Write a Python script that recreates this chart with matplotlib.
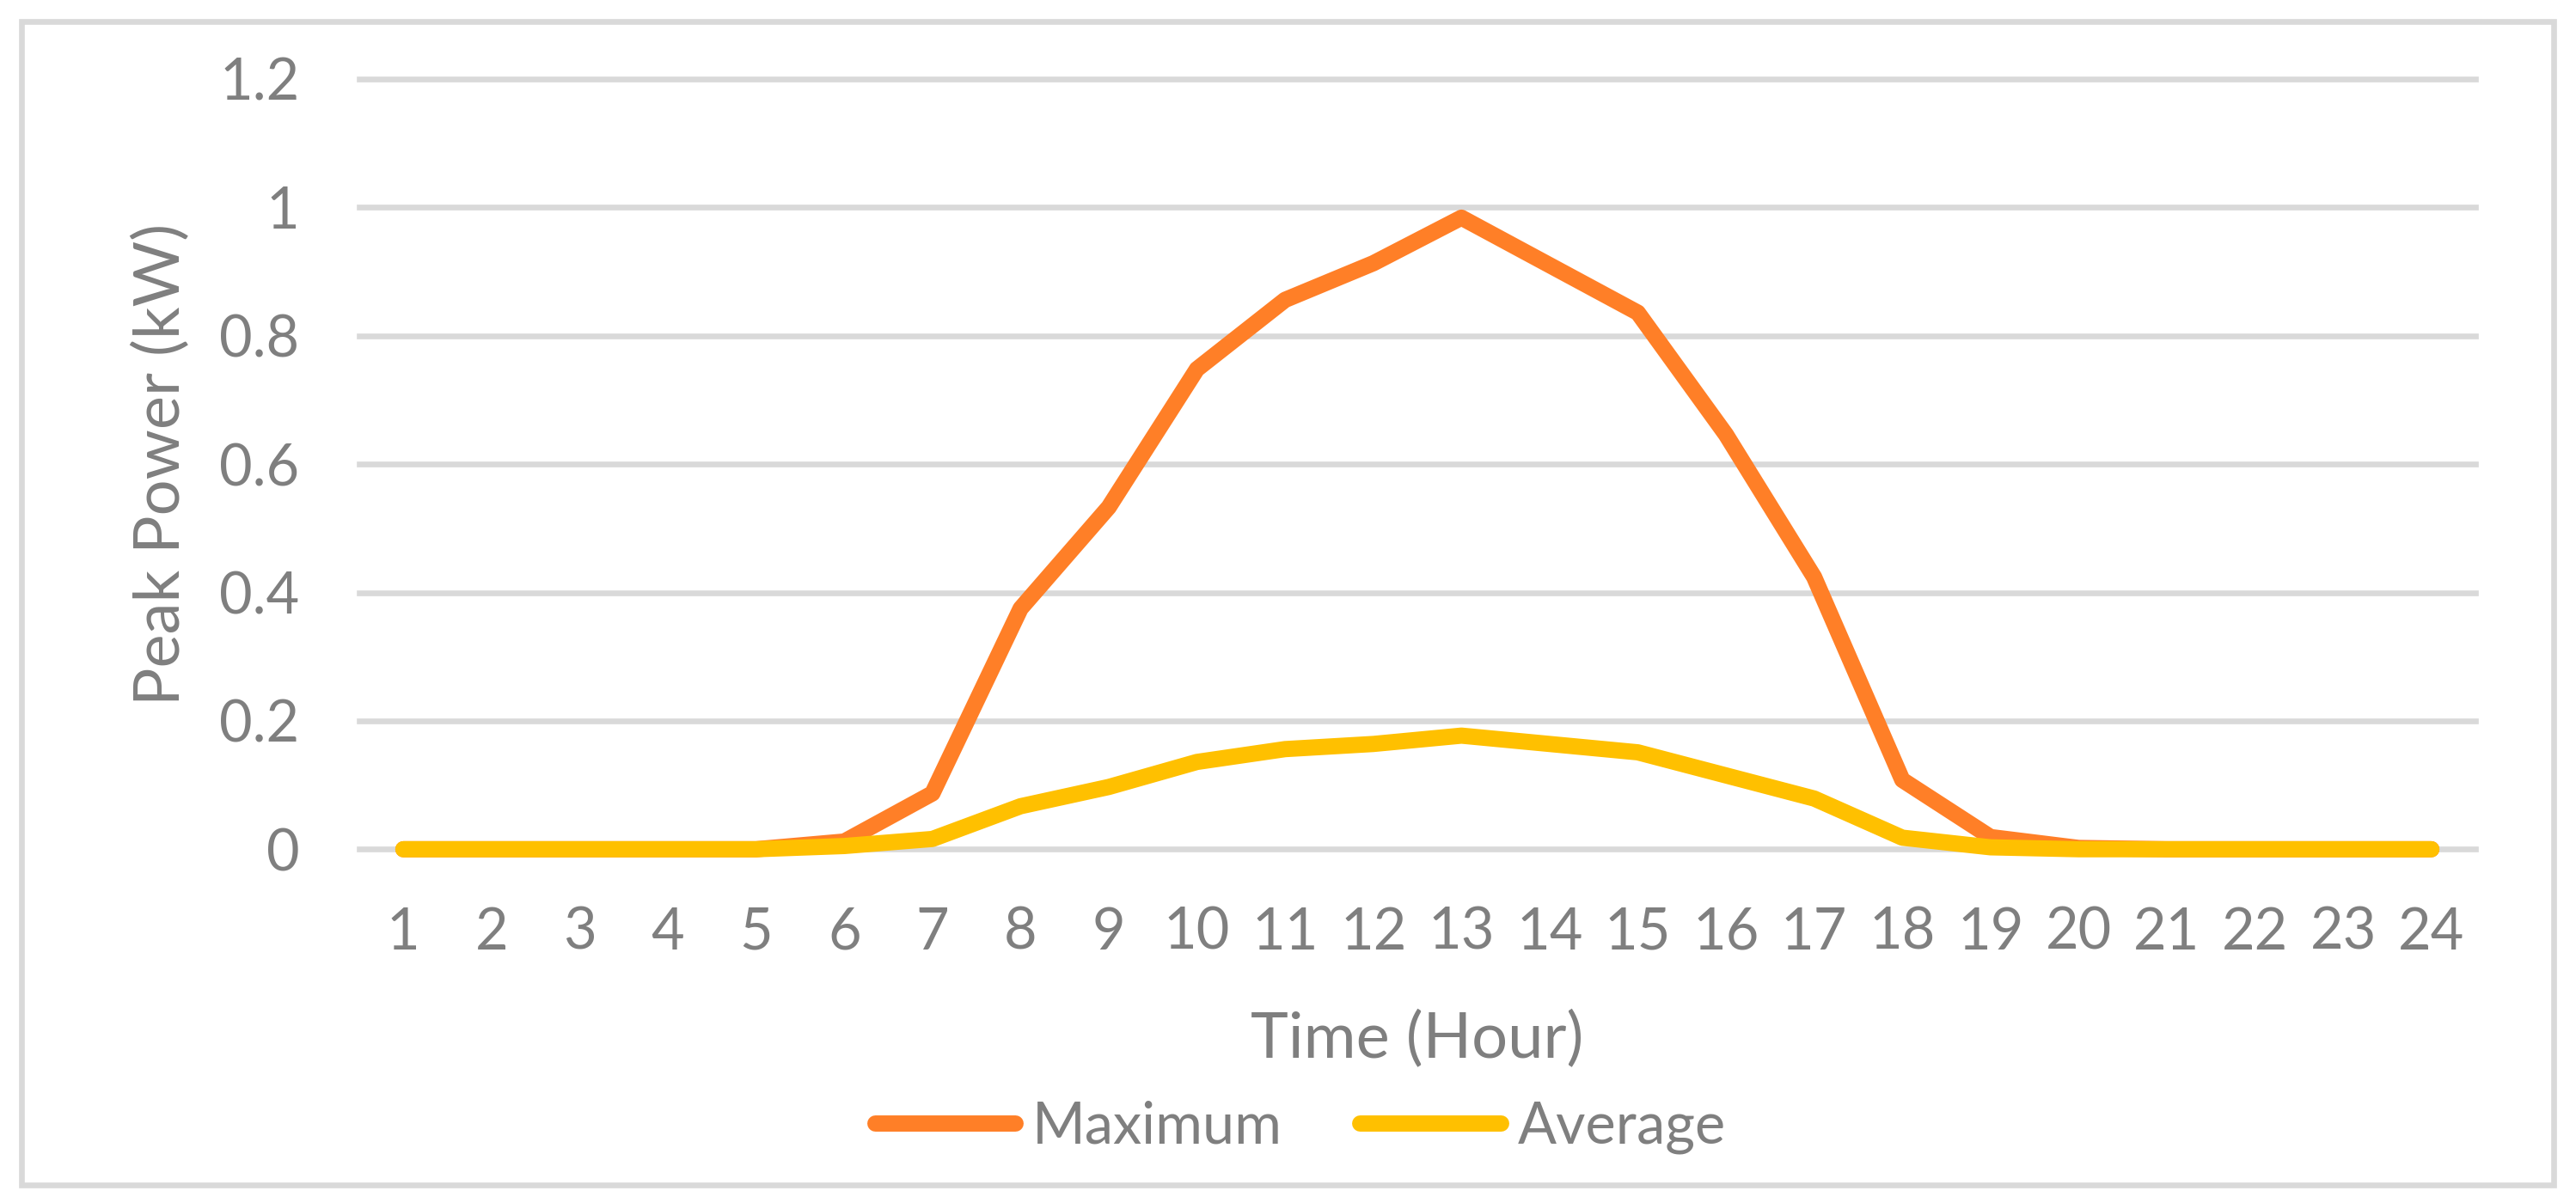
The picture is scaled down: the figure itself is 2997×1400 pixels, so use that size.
import matplotlib
matplotlib.use("Agg")
import matplotlib.pyplot as plt
from matplotlib.patches import Rectangle

# ---- data ----
hours = [str(h) for h in range(1, 25)]
maximum = [0, 0, 0, 0, 0, 0.012, 0.087, 0.375, 0.533, 0.748, 0.856, 0.913,
           0.984, 0.910, 0.836, 0.646, 0.424, 0.108, 0.019, 0.002, 0, 0, 0, 0]
average = [0, 0, 0, 0, 0, 0.005, 0.016, 0.067, 0.097, 0.136, 0.156, 0.164,
           0.177, 0.164, 0.151, 0.115, 0.079, 0.018, 0.003, 0, 0, 0, 0, 0]
y_ticks = [0, 0.2, 0.4, 0.6, 0.8, 1, 1.2]
y_tick_labels = ["0", "0.2", "0.4", "0.6", "0.8", "1", "1.2"]
series_names = ["Maximum", "Average"]

# ---- style ----
plt.rcParams['font.family'] = ['Lato', 'DejaVu Sans']
TXT = '#7F7F7F'
GRID = '#D9D9D9'
ORANGE = '#FF7F27'
YELLOW = '#FFC000'

W, H = 2997, 1400
fig = plt.figure(figsize=(W / 200, H / 200), dpi=200)

# outer border
border = Rectangle((24.5 / W, 21 / H), (2971 - 24.5) / W, (1379 - 24.5) / H,
                   transform=fig.transFigure, fill=False, edgecolor=GRID,
                   linewidth=2.4, zorder=0)
fig.patches.append(border)

ax = fig.add_axes([418 / W, 1 - 988.3 / H, (2880 - 418) / W, (988.3 - 92) / H])
x = list(range(1, 25))
lw = 6.8
ax.plot(x, maximum, color=ORANGE, lw=lw, solid_capstyle='round',
        solid_joinstyle='round', clip_on=False, label=series_names[0], zorder=3)
ax.plot(x, average, color=YELLOW, lw=lw, solid_capstyle='round',
        solid_joinstyle='round', clip_on=False, label=series_names[1], zorder=4)

ax.set_xlim(0.5, 24.5)
ax.set_ylim(0, 1.2)
ax.set_xticks(x)
ax.set_xticklabels(hours)
ax.set_yticks(y_ticks)
ax.set_yticklabels(y_tick_labels)
ax.tick_params(axis='both', length=0, labelsize=24, colors=TXT)
ax.tick_params(axis='x', pad=24)
ax.tick_params(axis='y', pad=25)
ax.grid(axis='y', color=GRID, lw=2.4)
ax.grid(axis='x', visible=False)
ax.set_axisbelow(True)
for gl in ax.get_ygridlines():
    gl.set_clip_on(False)
for s in ax.spines.values():
    s.set_visible(False)

fig.text(188 / W, 1 - 540 / H, "Peak Power (kW)", rotation=90, ha='center',
         va='center', fontsize=26.7, color=TXT)
fig.text(1649 / W, 1 - 1210 / H, "Time (Hour)", ha='center', va='center',
         fontsize=26.7, color=TXT)

leg = fig.legend(loc='center', bbox_to_anchor=(1513 / W, 1 - 1312 / H),
                 ncol=2, frameon=False, fontsize=24, handlelength=2.45,
                 handletextpad=0.3, columnspacing=1.35, borderpad=0)
for t in leg.get_texts():
    t.set_color(TXT)

fig.savefig("out.png", dpi=200, facecolor='white')
